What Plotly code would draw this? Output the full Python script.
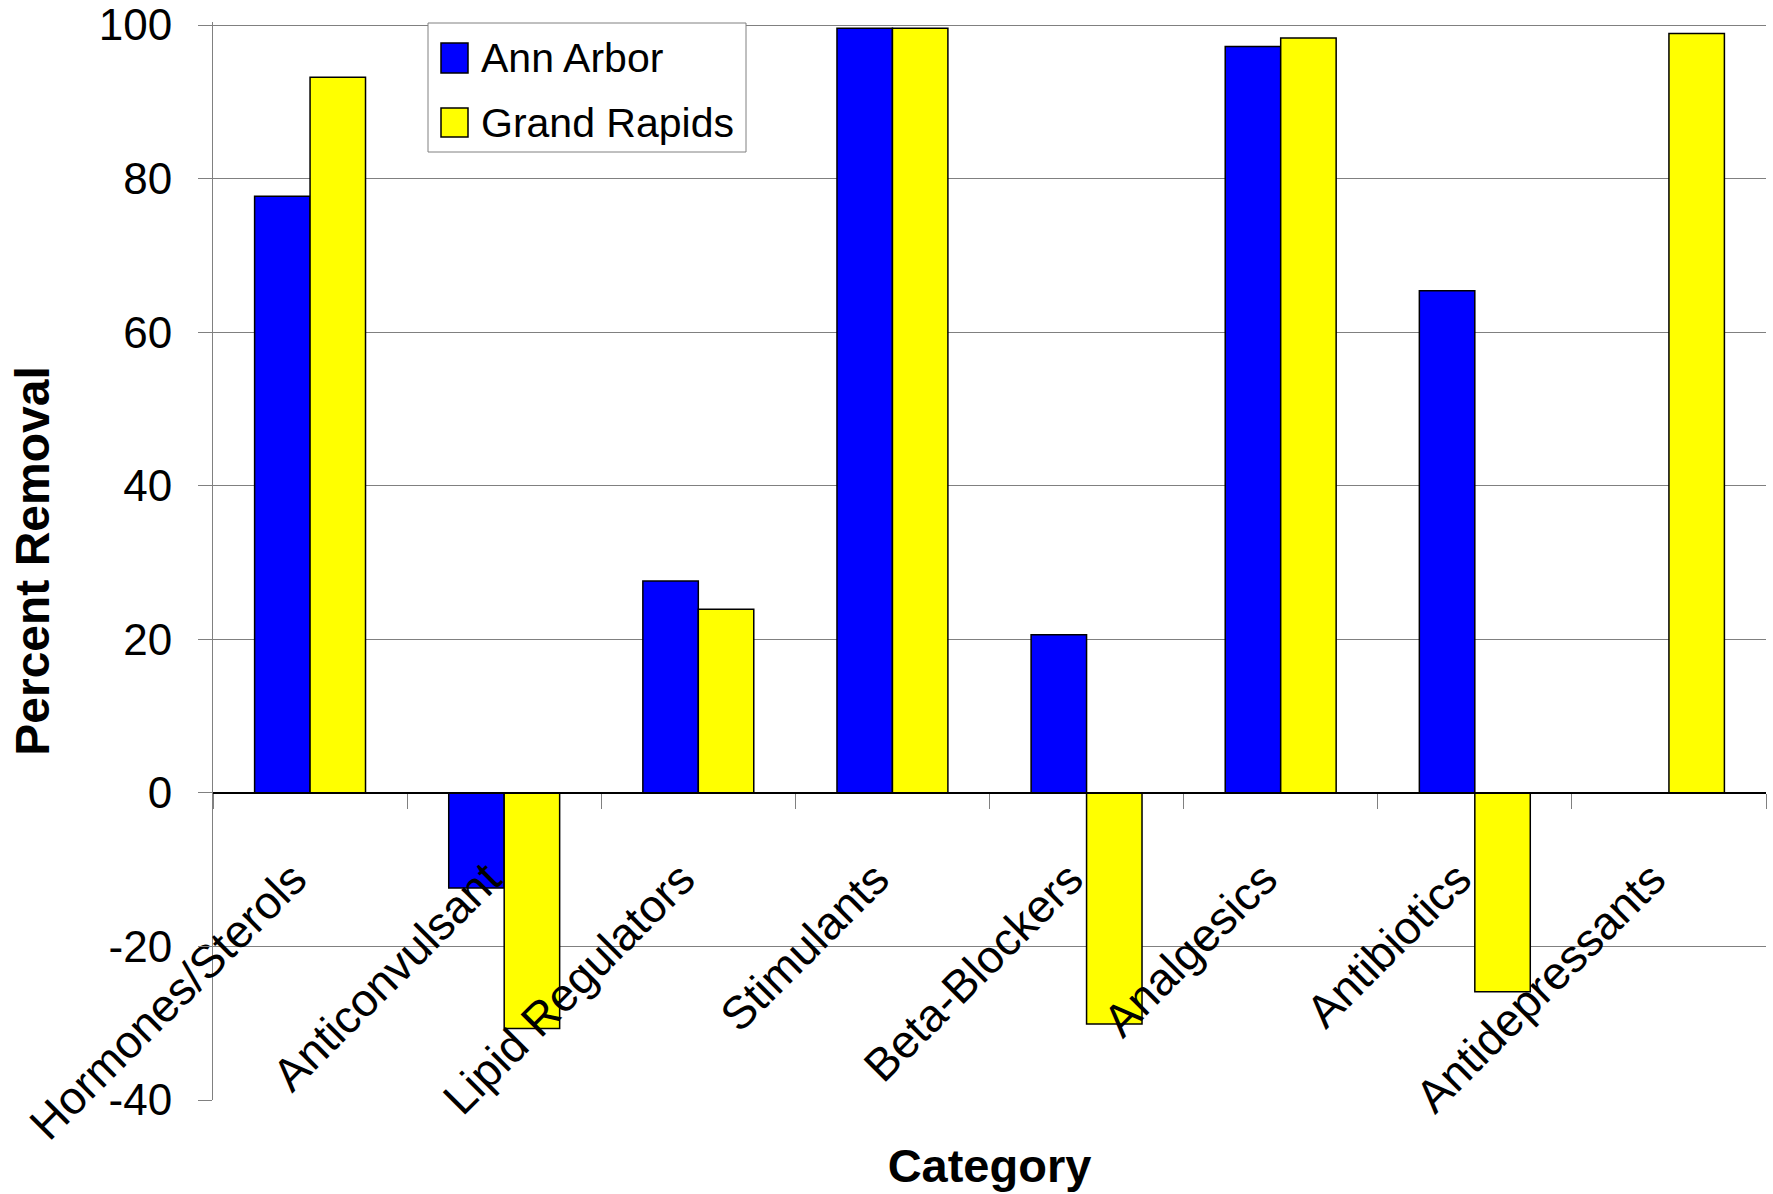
import plotly.graph_objects as go

categories = ["Hormones/Sterols", "Anticonvulsant", "Lipid Regulators", "Stimulants",
              "Beta-Blockers", "Analgesics", "Antibiotics", "Antidepressants"]
ann_arbor = [77.7, -12.4, 27.6, 99.6, 20.6, 97.2, 65.4, None]
grand_rapids = [93.2, -30.7, 23.9, 99.6, -30.1, 98.3, -25.9, 98.9]
series_names = ["Ann Arbor", "Grand Rapids"]
series_colors = ["#0000FF", "#FFFF00"]
y_tick_vals = [-40, -20, 0, 20, 40, 60, 80, 100]
y_tick_text = ["-40", "-20", "0", "20", "40", "60", "80", "100"]

FONT = "Liberation Sans, Arial, sans-serif"

# layout geometry (page body margin removed via post_script)
W, H = 1773, 1194
OFF = 0
Y_MIN, Y_MAX = -40, 100.4          # small headroom so the 100 gridline is kept
ML, PW = 213, 1553
MT = 22                             # plot top (fig coords)
PH = 1078
MR = W - ML - PW
MB = H - MT - PH


def px(xw):
    return (xw - OFF - ML) / PW


def py(yw):
    return 1 - (yw - OFF - MT) / PH


fig = go.Figure()
for name, vals, col in zip(series_names, [ann_arbor, grand_rapids], series_colors):
    fig.add_bar(name=name, x=categories, y=vals, showlegend=False,
                marker=dict(color=col, line=dict(color="black", width=1.5)))

zero_pos = (0 - Y_MIN) / (Y_MAX - Y_MIN)

# legend drawn as box + squares + text
shapes = [dict(type="rect", xref="paper", yref="paper",
               x0=px(428), x1=px(746), y0=py(152), y1=py(23),
               line=dict(color="#808080", width=1), fillcolor="white", layer="above")]
annotations = []
sq_rows = [(43, 73, 58), (108, 137, 123)]
for (y0, y1, yc), name, col in zip(sq_rows, series_names, series_colors):
    shapes.append(dict(type="rect", xref="paper", yref="paper",
                       x0=px(441), x1=px(468), y0=py(y1), y1=py(y0),
                       line=dict(color="black", width=1.5), fillcolor=col, layer="above"))
    annotations.append(dict(text=name, xref="paper", yref="paper", x=px(479), y=py(yc),
                            xanchor="left", yanchor="middle", showarrow=False,
                            font=dict(size=41, family=FONT, color="black")))

fig.update_layout(
    width=W, height=H,
    margin=dict(l=ML, r=MR, t=MT, b=MB),
    paper_bgcolor="white", plot_bgcolor="white",
    font=dict(family=FONT, color="black"),
    barmode="group", bargap=0.4286, bargroupgap=0,
    showlegend=False,
    shapes=shapes, annotations=annotations,
    xaxis=dict(type="category", anchor="free", position=zero_pos,
               showline=True, linecolor="black", linewidth=1.5,
               ticks="outside", tickson="boundaries", ticklen=15, tickcolor="#808080",
               tickangle=-45, tickfont=dict(size=46, family=FONT, color="black"),
               ticklabelstandoff=40, ticklabelshift=-17,
               showgrid=False, automargin=False,
               title=dict(text="<b>Category</b>", standoff=0,
                          font=dict(size=47, family=FONT, color="black"))),
    yaxis=dict(range=[Y_MIN, Y_MAX], tickvals=y_tick_vals, ticktext=y_tick_text,
               showgrid=True, gridcolor="#808080", gridwidth=1,
               zeroline=True, zerolinecolor="black", zerolinewidth=1.5,
               showline=True, linecolor="#808080", linewidth=1,
               ticks="outside", ticklen=14, tickcolor="#808080",
               tickfont=dict(size=44, family=FONT, color="black"),
               ticklabelstandoff=17, ticklabeloverflow="allow",
               automargin=False,
               title=dict(text="<b>Percent Removal</b>", standoff=33,
                          font=dict(size=48, family=FONT, color="black"))),
)

fig.write_html("out.html", config={"displayModeBar": False},
               post_script="document.body.style.margin='0';")
